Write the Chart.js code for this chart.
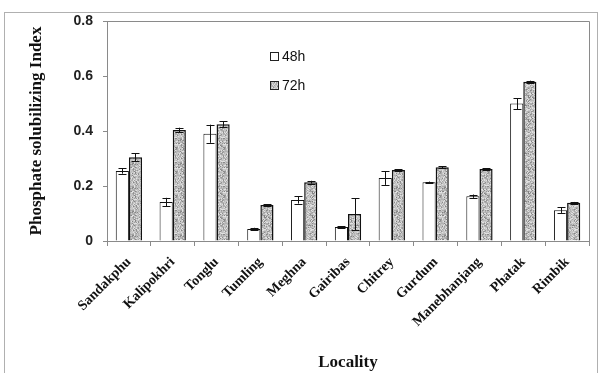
<!DOCTYPE html>
<html>
<head>
<meta charset="utf-8">
<script src="https://cdn.jsdelivr.net/npm/chart.js@4/dist/chart.umd.min.js"></script>
<style>
  html, body { margin: 0; padding: 0; background: #fff; }
  #wrap { width: 599px; height: 373px; position: relative; }
</style>
</head>
<body>
<div id="wrap"><canvas id="psiChart" width="599" height="373"></canvas></div>
<script>
// data
const localities = ['Sandakphu', 'Kalipokhri', 'Tonglu', 'Tumling', 'Meghna', 'Gairibas',
  'Chitrey', 'Gurdum', 'Manebhanjang', 'Phatak', 'Rimbik'];
const psi48 = [0.255, 0.142, 0.39, 0.044, 0.149, 0.051, 0.229, 0.214, 0.163, 0.50, 0.112];
const err48 = [0.010, 0.015, 0.033, 0.004, 0.013, 0.003, 0.025, 0.002, 0.006, 0.020, 0.010];
const psi72 = [0.305, 0.404, 0.425, 0.131, 0.214, 0.098, 0.258, 0.268, 0.262, 0.579, 0.139];
const err72 = [0.015, 0.008, 0.010, 0.002, 0.005, 0.058, 0.003, 0.003, 0.002, 0.004, 0.003];
const yTicks = [0, 0.2, 0.4, 0.6, 0.8];

// speckled grey fill for the 72h bars (fixed hash noise, just texture)
function makeSpeckle() {
  const n = 24;
  const c = document.createElement('canvas');
  c.width = n; c.height = n;
  const g = c.getContext('2d');
  const img = g.createImageData(n, n);
  for (let y = 0; y < n; y++) {
    for (let x = 0; x < n; x++) {
      let h = (x * 374761393 + y * 668265263) | 0;
      h = Math.imul(h ^ (h >>> 13), 1274126177);
      h = (h ^ (h >>> 16)) >>> 0;
      const r = (h % 1000) / 1000;
      let v = 200;
      if (r < 0.22) v = 130 + (h % 40);
      else if (r < 0.5) v = 170 + (h % 20);
      else if (r > 0.85) v = 225;
      const k = (y * n + x) * 4;
      img.data[k] = v; img.data[k + 1] = v; img.data[k + 2] = v; img.data[k + 3] = 255;
    }
  }
  g.putImageData(img, 0, 0);
  return g.createPattern(c, 'repeat');
}

const frameAndBars = {
  id: 'frameAndBars',
  beforeDraw(chart) {
    const ctx = chart.ctx;
    ctx.save();
    ctx.strokeStyle = '#b0b0b0';
    ctx.lineWidth = 1;
    ctx.strokeRect(4.5, 12.5, 593, 370);
    ctx.restore();
  },
  afterDatasetsDraw(chart) {
    const ctx = chart.ctx;
    const y = chart.scales.y;
    const a = chart.chartArea;
    ctx.save();
    // plot box top and right
    ctx.strokeStyle = '#8a8a8a';
    ctx.lineWidth = 1;
    ctx.beginPath();
    ctx.moveTo(a.left, Math.round(a.top) + 0.5);
    ctx.lineTo(Math.round(a.right) + 0.5, Math.round(a.top) + 0.5);
    ctx.lineTo(Math.round(a.right) + 0.5, a.bottom);
    ctx.stroke();
    // error bars
    const errs = [err48, err72];
    ctx.strokeStyle = '#111';
    ctx.lineWidth = 1;
    chart.data.datasets.forEach((ds, di) => {
      const meta = chart.getDatasetMeta(di);
      meta.data.forEach((bar, i) => {
        const v = ds.data[i], e = errs[di][i];
        const x = Math.round(bar.x) + 0.5;
        const yt = y.getPixelForValue(v + e);
        const yb = y.getPixelForValue(v - e);
        ctx.beginPath();
        ctx.moveTo(x, yt); ctx.lineTo(x, yb);
        ctx.moveTo(x - 4, Math.round(yt) + 0.5); ctx.lineTo(x + 4, Math.round(yt) + 0.5);
        ctx.moveTo(x - 4, Math.round(yb) + 0.5); ctx.lineTo(x + 4, Math.round(yb) + 0.5);
        ctx.stroke();
      });
    });
    // legend
    ctx.font = '14px "Liberation Sans", Arial, sans-serif';
    ctx.textBaseline = 'middle';
    ctx.strokeStyle = '#222';
    ctx.fillStyle = '#fff';
    ctx.fillRect(270.5, 52.5, 8, 8);
    ctx.strokeRect(270.5, 52.5, 8, 8);
    ctx.fillStyle = speckle;
    ctx.fillRect(270.5, 81.5, 8, 8);
    ctx.strokeRect(270.5, 81.5, 8, 8);
    ctx.fillStyle = '#111';
    ctx.fillText('48h', 282, 57);
    ctx.fillText('72h', 282, 86);
    ctx.restore();
  }
};

const speckle = makeSpeckle();
const ctx = document.getElementById('psiChart').getContext('2d');

new Chart(ctx, {
  type: 'bar',
  data: {
    labels: localities,
    datasets: [{
      label: '48h',
      data: psi48,
      backgroundColor: '#ffffff',
      borderColor: '#111',
      borderWidth: 1,
      categoryPercentage: 0.6,
      barPercentage: 1.0
    }, {
      label: '72h',
      data: psi72,
      backgroundColor: speckle,
      borderColor: '#111',
      borderWidth: 1.5,
      categoryPercentage: 0.6,
      barPercentage: 1.0
    }]
  },
  options: {
    responsive: false,
    animation: false,
    layout: { padding: { left: 26, top: 21, right: 10, bottom: 0 } },
    plugins: {
      legend: { display: false },
      tooltip: { enabled: false }
    },
    scales: {
      x: {
        offset: true,
        grid: { display: true, drawOnChartArea: false, offset: true, tickLength: 5, color: '#8a8a8a' },
        border: { color: '#8a8a8a' },
        ticks: {
          minRotation: 45, maxRotation: 45, padding: 8,
          color: '#111',
          font: { family: '"Liberation Serif", "Times New Roman", serif', size: 14, weight: 'bold' }
        },
        title: {
          display: true, text: 'Locality', color: '#111', padding: { top: 2, bottom: 0 },
          font: { family: '"Liberation Serif", "Times New Roman", serif', size: 17, weight: 'bold' }
        },
        afterFit(scale) { scale.height = 132; }
      },
      y: {
        min: 0, max: 0.8,
        afterBuildTicks(scale) { scale.ticks = yTicks.map(v => ({ value: v })); },
        grid: { display: true, drawOnChartArea: false, tickLength: 4, color: '#8a8a8a' },
        border: { color: '#8a8a8a' },
        ticks: {
          color: '#222', padding: 10,
          font: { family: '"Liberation Sans", Arial, sans-serif', size: 14, weight: 'bold' },
          callback: v => (v === 0 ? '0' : v.toFixed(1))
        },
        title: {
          display: true, text: 'Phosphate solubilizing Index', color: '#111', padding: { top: 0, bottom: 0 },
          font: { family: '"Liberation Serif", "Times New Roman", serif', size: 17, weight: 'bold' }
        },
        afterFit(scale) { scale.width = 81; }
      }
    }
  },
  plugins: [frameAndBars]
});
</script>
</body>
</html>
